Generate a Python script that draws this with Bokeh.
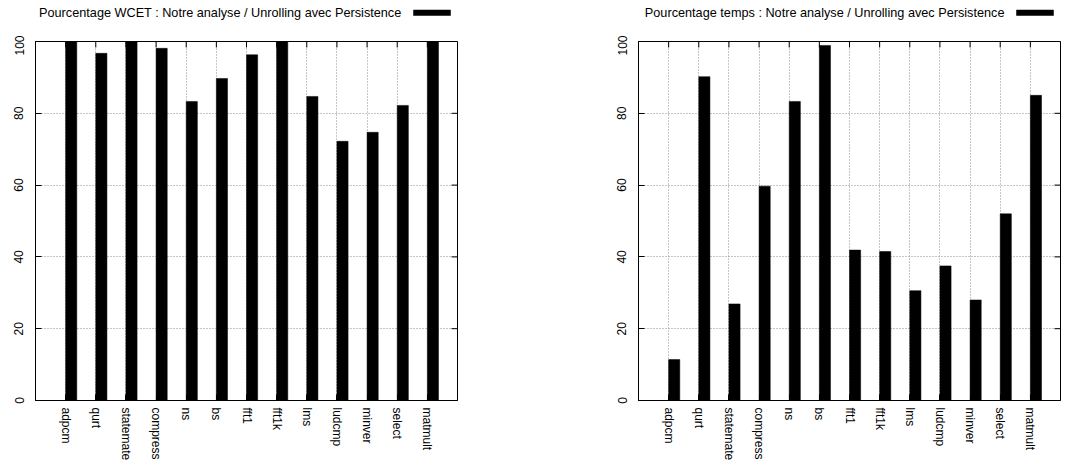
from bokeh.plotting import figure
from bokeh.models import FixedTicker, Range1d
from bokeh.layouts import row, column
from bokeh.embed import file_html
from bokeh.resources import INLINE
from bokeh.core.properties import value

benchmarks = ["adpcm", "qurt", "statemate", "compress", "ns", "bs", "fft1",
              "fft1k", "lms", "ludcmp", "minver", "select", "matmult"]
wcet_pct = [100, 96.7, 100, 98.1, 83.3, 89.7, 96.3, 100, 84.7, 72.2, 74.7, 82.2, 100]
time_pct = [11.4, 90.2, 26.9, 59.7, 83.3, 98.9, 41.9, 41.5, 30.6, 37.5, 28.0, 52.0, 85.0]
y_ticks = [0, 20, 40, 60, 80, 100]
titles = ["Pourcentage WCET : Notre analyse / Unrolling avec Persistence",
          "Pourcentage temps : Notre analyse / Unrolling avec Persistence"]

FONT = "Liberation Sans"
FW, FH = 422, 360
BAR_W = 0.37
KEY_H = 35      # height of the key strip above each chart
TOP = 6         # border between key strip and frame
BOTTOM = 62
TICK = 6        # inward tick length in px


def panel(values, title, bl, br):
    n = len(values)
    idx = list(range(n))
    width = bl + FW + br
    x0, x1 = -1, n
    y0, y1 = 0, 100

    # ---- key strip (title text + sample box); frame aligned with the chart frame,
    # coordinates in pixels relative to that frame
    k = figure(frame_width=FW, frame_height=KEY_H, output_backend="svg",
               toolbar_location=None,
               x_range=Range1d(0, FW), y_range=Range1d(0, KEY_H),
               x_axis_type=None, y_axis_type=None,
               min_border_left=bl, min_border_right=br, min_border_top=0,
               min_border_bottom=0,
               background_fill_color="white", border_fill_color="white")
    k.outline_line_color = None
    k.grid.visible = False
    k.text(x=[FW - 56], y=[KEY_H - 12], text=[title], text_align="right",
           text_baseline="middle", text_font=value(FONT), text_font_size="12.7px",
           text_color="black")
    k.quad(left=[FW - 44], right=[FW - 7], bottom=[KEY_H - 15], top=[KEY_H - 9.5],
           fill_color="black", line_color="black", line_width=0.5)

    # ---- main chart
    p = figure(width=width, height=TOP + FH + BOTTOM, output_backend="svg",
               toolbar_location=None, x_range=Range1d(x0, x1),
               y_range=Range1d(y0, y1), min_border_left=bl, min_border_right=br,
               min_border_top=TOP, min_border_bottom=BOTTOM,
               background_fill_color="white", border_fill_color="white")
    p.outline_line_color = "black"
    p.outline_line_width = 1

    # grid
    p.xgrid.ticker = FixedTicker(ticks=idx)
    p.ygrid.ticker = FixedTicker(ticks=y_ticks[1:-1])
    for g in (p.xgrid[0], p.ygrid[0]):
        g.grid_line_color = "#8a8a8a"
        g.grid_line_dash = "1 2"
        g.grid_line_width = 1

    # bars
    p.vbar(x=[i + BAR_W / 2 for i in idx], width=BAR_W, top=values, bottom=0,
           fill_color="black", line_color="black", line_width=0.5)

    # mirrored ticks on the top and right borders
    dy = TICK * (y1 - y0) / FH
    dx = TICK * (x1 - x0) / FW
    p.segment(x0=idx, x1=idx, y0=[y1] * n, y1=[y1 - dy] * n,
              line_color="black", line_width=1)
    p.segment(x0=[x1] * len(y_ticks), x1=[x1 - dx] * len(y_ticks),
              y0=y_ticks, y1=y_ticks, line_color="black", line_width=1)

    # axes
    xa = p.xaxis[0]
    xa.ticker = FixedTicker(ticks=idx)
    xa.major_label_overrides = {i: b for i, b in zip(idx, benchmarks)}
    xa.major_label_orientation = "vertical"
    xa.major_label_text_font = FONT
    xa.major_label_text_font_size = "12px"
    xa.major_label_text_color = "black"
    xa.major_label_standoff = 7
    xa.major_tick_in = TICK
    xa.major_tick_out = 0
    xa.minor_tick_line_color = None
    xa.axis_line_color = "black"

    ya = p.yaxis[0]
    ya.ticker = FixedTicker(ticks=y_ticks)
    ya.major_label_orientation = "vertical"
    ya.major_label_text_font = FONT
    ya.major_label_text_font_size = "12px"
    ya.major_label_text_color = "black"
    ya.major_label_standoff = 12
    ya.major_tick_in = TICK
    ya.major_tick_out = 0
    ya.minor_tick_line_color = None
    ya.axis_line_color = "black"

    return column(k, p, spacing=0)


c1 = panel(wcet_pct, titles[0], 35, 50)
c2 = panel(time_pct, titles[1], 131, 8)
layout = row(c1, c2, spacing=0)

open("out.html", "w").write(file_html(layout, INLINE))
